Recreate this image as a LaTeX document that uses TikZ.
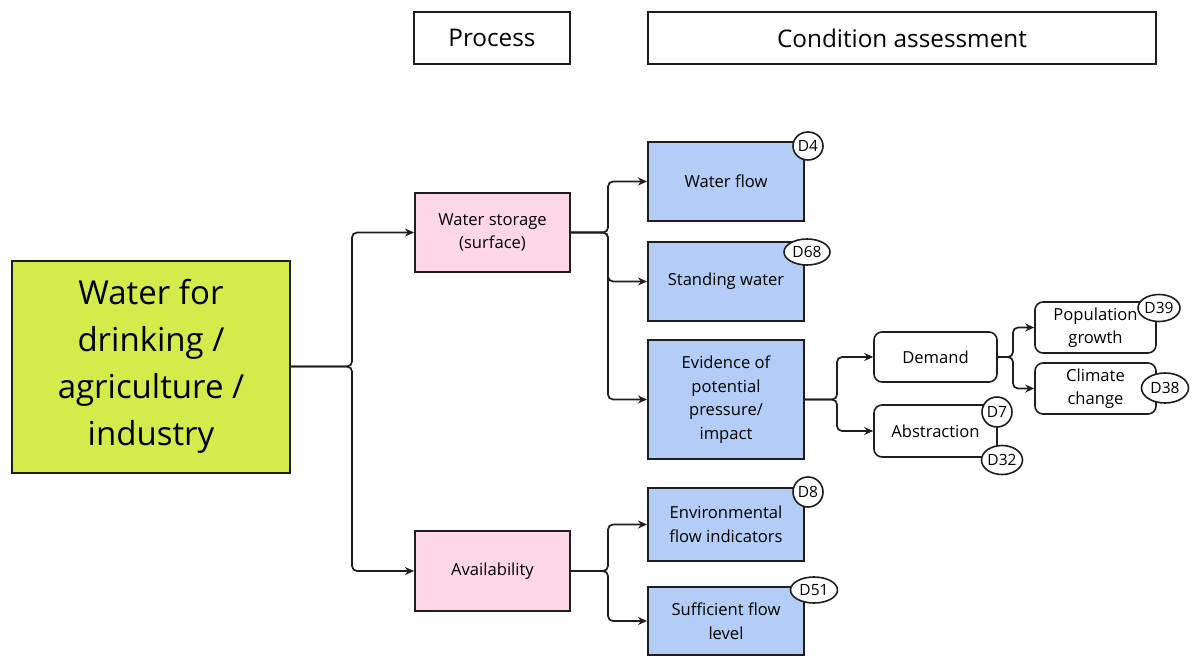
\documentclass[tikz,border=0pt]{standalone}
\usepackage{fontspec}
\setmainfont{Open Sans}
\usetikzlibrary{arrows.meta,shapes.geometric}
\definecolor{lime}{HTML}{D4EB4B}
\definecolor{pinkfill}{HTML}{FDD6E8}
\definecolor{bluefill}{HTML}{B3CDF7}
\definecolor{edge}{HTML}{1E1E1E}
\tikzset{
  box/.style={draw=edge, line width=2pt, inner sep=0pt, align=center,
    font=\fontsize{16.6}{23.5}\selectfont},
  header/.style={draw=edge, line width=1.5pt, inner sep=0pt, align=center,
    minimum height=52pt, font=\fontsize{24.3}{28}\selectfont},
  mainbox/.style={box, fill=lime, minimum width=278pt, minimum height=212pt,
    font=\fontsize{33}{47}\selectfont},
  procbox/.style={box, fill=pinkfill, minimum width=155pt, minimum height=79pt},
  condbox/.style={box, fill=bluefill, minimum width=156pt},
  factor/.style={box, fill=white, rounded corners=8pt, line width=1.6pt},
  badge/.style={ellipse, draw=edge, line width=1.6pt, fill=white, inner sep=0pt,
    font=\fontsize{15.5}{18}\selectfont},
  arr/.style={-{Stealth[length=9pt,width=8pt]}, line width=1.7pt, draw=edge,
    rounded corners=5pt}
}
\begin{document}
\begin{tikzpicture}[x=1pt,y=-1pt]
\useasboundingbox (0,0) rectangle (1192,664);

% column headers
\node[header, minimum width=156pt] (hproc) at (492,38) {Process};
\node[header, minimum width=508pt] (hcond) at (902,38) {Condition assessment};

% service box
\node[mainbox] (main) at (151,366.5) {Water for\\drinking /\\agriculture /\\industry};

% processes
\node[procbox] (store) at (492.5,232.5) {Water storage\\(surface)};
\node[procbox, minimum height=80pt] (avail) at (492.5,571) {Availability};

% condition indicators
\node[condbox, minimum height=79pt] (flow) at (726,181.5) {Water flow};
\node[condbox, minimum height=79pt] (stand) at (726,281.5) {Standing water};
\node[condbox, minimum height=119pt] (evid) at (726,399.5) {Evidence of\\potential\\pressure/\\impact};
\node[condbox, minimum height=73pt] (envf) at (726,524.5) {Environmental\\flow indicators};
\node[condbox, minimum height=68pt] (suff) at (726,621) {Sufficient flow\\level};

% pressures
\node[factor, minimum width=123pt, minimum height=50pt] (dem) at (935.5,357) {Demand};
\node[factor, minimum width=123pt, minimum height=52pt] (abs) at (935.5,431) {Abstraction};
\node[factor, minimum width=121pt, minimum height=51pt] (pop) at (1095.5,327.5) {Population\\growth};
\node[factor, minimum width=121pt, minimum height=51pt] (clim) at (1095.5,388.5) {Climate\\change};

% branch points
\coordinate (j1) at (352,366.5);
\coordinate (j2) at (608,232.5);
\coordinate (j3) at (608,571);
\coordinate (j4) at (837,399.5);
\coordinate (j5) at (1013,357);

% connectors
\draw[arr] (main.east) -- (j1) |- (store.west);
\draw[arr] (main.east) -- (j1) |- (avail.west);

\draw[arr] (store.east) -- (j2) |- (flow.west);
\draw[arr] (store.east) -- (j2) |- (stand.west);
\draw[arr] (store.east) -- (j2) |- (evid.west);

\draw[arr] (avail.east) -- (j3) |- (envf.west);
\draw[arr] (avail.east) -- (j3) |- (suff.west);

\draw[arr] (evid.east) -- (j4) |- (dem.west);
\draw[arr] (evid.east) -- (j4) |- (abs.west);

\draw[arr] (dem.east) -- (j5) |- (pop.west);
\draw[arr] (dem.east) -- (j5) |- (clim.west);

% indicator references
\node[badge, minimum width=30pt, minimum height=28pt] (d4) at (808,146) {D4};
\node[badge, minimum width=46pt, minimum height=26pt] (d68) at (807,252) {D68};
\node[badge, minimum width=30pt, minimum height=30pt] (d8) at (808,492) {D8};
\node[badge, minimum width=47pt, minimum height=26pt] (d51) at (814,590) {D51};
\node[badge, minimum width=30pt, minimum height=30pt] (d7) at (997,412) {D7};
\node[badge, minimum width=40pt, minimum height=29pt] (d32) at (1002,460) {D32};
\node[badge, minimum width=42pt, minimum height=27pt] (d39) at (1159,308) {D39};
\node[badge, minimum width=47pt, minimum height=30pt] (d38) at (1165,388) {D38};
\end{tikzpicture}
\end{document}
